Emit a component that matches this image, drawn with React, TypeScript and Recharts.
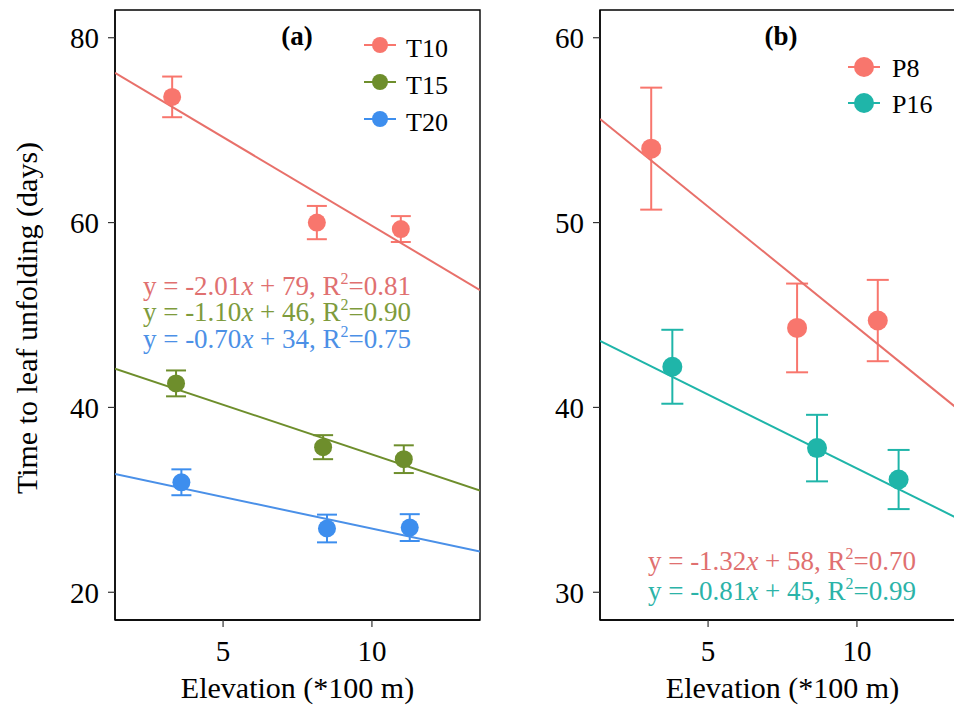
import React from "react";
import { ComposedChart, Scatter, XAxis, YAxis, ErrorBar, ReferenceArea } from "recharts";

const FONT = "'Liberation Serif', 'Times New Roman', serif";
const W = 954;
const H = 707;

// shared x axis (elevation, *100 m)
const xDomain: [number, number] = [1.37, 13.63];
const xTicks = [5, 10];
const fitX = [1.37, 13.63];

// panel (a): temperature treatments
const yDomainA: [number, number] = [17, 83];
const yTicksA = [20, 40, 60, 80];
const t10X = [3.29, 8.15, 10.97];
const t10Y = [73.6, 60.0, 59.3];
const t10Err = [2.2, 1.8, 1.4];
const t15X = [3.42, 8.36, 11.07];
const t15Y = [42.6, 35.7, 34.4];
const t15Err = [1.4, 1.3, 1.5];
const t20X = [3.6, 8.49, 11.27];
const t20Y = [31.9, 26.9, 27.0];
const t20Err = [1.4, 1.5, 1.45];
const t10Fit = [76.2, 52.7];
const t15Fit = [44.2, 31.0];
const t20Fit = [32.8, 24.4];

// panel (b): photoperiod treatments
const yDomainB: [number, number] = [28.5, 61.5];
const yTicksB = [30, 40, 50, 60];
const p8X = [3.09, 7.99, 10.7];
const p8Y = [54.0, 44.3, 44.7];
const p8Err = [3.3, 2.4, 2.2];
const p16X = [3.8, 8.66, 11.4];
const p16Y = [42.2, 37.8, 36.1];
const p16Err = [2.0, 1.8, 1.6];
const p8Fit = [55.6, 39.6];
const p16Fit = [43.6, 33.8];

const RED = "#F8766D";
const OLIVE = "#6E8E2C";
const BLUE = "#3D8EEE";
const TEAL = "#1FB5A9";

const rows = (xs: number[], ys: number[], errs?: number[]) =>
  xs.map((x, i) => ({ x, y: ys[i], err: errs ? errs[i] : 0 }));

type Group = { name: string; color: string; data: { x: number; y: number; err: number }[] };
type Fit = { color: string; data: { x: number; y: number; err: number }[] };

const groupsA: Group[] = [
  { name: "T10", color: RED, data: rows(t10X, t10Y, t10Err) },
  { name: "T15", color: OLIVE, data: rows(t15X, t15Y, t15Err) },
  { name: "T20", color: BLUE, data: rows(t20X, t20Y, t20Err) },
];
const fitsA: Fit[] = [
  { color: "#E8706A", data: rows(fitX, t10Fit) },
  { color: OLIVE, data: rows(fitX, t15Fit) },
  { color: "#4A90E8", data: rows(fitX, t20Fit) },
];
const groupsB: Group[] = [
  { name: "P8", color: RED, data: rows(p8X, p8Y, p8Err) },
  { name: "P16", color: TEAL, data: rows(p16X, p16Y, p16Err) },
];
const fitsB: Fit[] = [
  { color: "#E8706A", data: rows(fitX, p8Fit) },
  { color: TEAL, data: rows(fitX, p16Fit) },
];

type PanelProps = {
  left: number;
  width: number;
  yWidth: number;
  yDomain: [number, number];
  yTicks: number[];
  groups: Group[];
  fits: Fit[];
  r: number;
  cap: number;
};

function Panel({ left, width, yWidth, yDomain, yTicks, groups, fits, r, cap }: PanelProps) {
  const tickStyle = { fill: "#000", fontSize: 29, fontFamily: FONT };
  return (
    <div style={{ position: "absolute", left, top: 0 }}>
      <ComposedChart width={width} height={H} margin={{ top: 10, right: 1, bottom: 0, left: 0 }}>
        <XAxis
          type="number"
          dataKey="x"
          domain={xDomain}
          ticks={xTicks}
          allowDataOverflow
          height={87}
          tickSize={7}
          tickMargin={13}
          tick={tickStyle}
          axisLine={{ stroke: "#000", strokeWidth: 1.4 }}
          tickLine={{ stroke: "#333", strokeWidth: 1.2 }}
          label={{
            value: "Elevation (*100 m)",
            position: "insideBottom",
            offset: 9,
            fill: "#000",
            fontSize: 30,
            fontFamily: FONT,
          }}
        />
        <YAxis
          type="number"
          domain={yDomain}
          ticks={yTicks}
          allowDataOverflow
          width={yWidth}
          tickSize={7}
          tickMargin={9}
          tick={tickStyle}
          axisLine={{ stroke: "#000", strokeWidth: 1.4 }}
          tickLine={{ stroke: "#333", strokeWidth: 1.2 }}
        />
        <ReferenceArea
          x1={xDomain[0]}
          x2={xDomain[1]}
          y1={yDomain[0]}
          y2={yDomain[1]}
          fill="none"
          stroke="#000"
          strokeWidth={1.4}
          ifOverflow="visible"
        />
        {fits.map((f, i) => (
          <Scatter
            key={"fit" + i}
            data={f.data}
            dataKey="y"
            line={{ stroke: f.color, strokeWidth: 2 }}
            shape={() => <g />}
            legendType="none"
            isAnimationActive={false}
          />
        ))}
        {groups.map((g) => (
          <Scatter
            key={g.name}
            name={g.name}
            data={g.data}
            dataKey="y"
            fill={g.color}
            shape={(p: any) => <circle cx={p.cx} cy={p.cy} r={r} fill={g.color} />}
            isAnimationActive={false}
          >
            <ErrorBar dataKey="err" direction="y" width={cap} stroke={g.color} strokeWidth={2} />
          </Scatter>
        ))}
      </ComposedChart>
    </div>
  );
}

function Eq({ x, y, color, a, b, r2 }: { x: number; y: number; color: string; a: string; b: string; r2: string }) {
  return (
    <text x={x} y={y} fill={color} fontSize={27} textAnchor="middle">
      {"y = " + a}
      <tspan fontStyle="italic">x</tspan>
      {" + " + b + ", R"}
      <tspan dy={-11} fontSize={16}>2</tspan>
      <tspan dy={11}>{"=" + r2}</tspan>
    </text>
  );
}

function LegendItems({ items, cx, y0, step, r, tx, dyText }: { items: Group[]; cx: number; y0: number; step: number; r: number; tx: number; dyText: number }) {
  return (
    <g>
      {items.map((g, i) => {
        const cy = y0 + i * step;
        return (
          <g key={g.name}>
            <line x1={cx - 16} x2={cx + 16} y1={cy} y2={cy} stroke={g.color} strokeWidth={2} />
            <circle cx={cx} cy={cy} r={r} fill={g.color} />
            <text x={tx} y={cy + dyText} fontSize={26} fill="#000">
              {g.name}
            </text>
          </g>
        );
      })}
    </g>
  );
}

export default function App() {
  return (
    <div
      style={{
        position: "absolute",
        left: 0,
        top: 0,
        width: W,
        height: H,
        overflow: "hidden",
        background: "#fff",
        fontFamily: FONT,
      }}
    >
      <Panel left={0} width={481} yWidth={115} yDomain={yDomainA} yTicks={yTicksA} groups={groupsA} fits={fitsA} r={9} cap={10} />
      <Panel left={480} width={486} yWidth={120} yDomain={yDomainB} yTicks={yTicksB} groups={groupsB} fits={fitsB} r={10} cap={11} />
      <svg width={W} height={H} style={{ position: "absolute", left: 0, top: 0, pointerEvents: "none" }} fontFamily={FONT}>
        <text x={37} y={318} transform="rotate(-90 37 318)" textAnchor="middle" fontSize={30} fill="#000">
          Time to leaf unfolding (days)
        </text>
        <text x={297} y={45} textAnchor="middle" fontSize={27} fontWeight="bold" fill="#000">
          (a)
        </text>
        <text x={781} y={45} textAnchor="middle" fontSize={27} fontWeight="bold" fill="#000">
          (b)
        </text>
        <LegendItems items={groupsA} cx={380} y0={45} step={37} r={8} tx={406} dyText={12} />
        <LegendItems items={groupsB} cx={864} y0={67} step={36} r={10} tx={892} dyText={10} />
        <Eq x={277} y={295} color="#E07070" a="-2.01" b="79" r2="0.81" />
        <Eq x={277} y={321} color="#7E9B3C" a="-1.10" b="46" r2="0.90" />
        <Eq x={277} y={348} color="#4C90E6" a="-0.70" b="34" r2="0.75" />
        <Eq x={782} y={570} color="#E07070" a="-1.32" b="58" r2="0.70" />
        <Eq x={782} y={600} color="#2BB3A8" a="-0.81" b="45" r2="0.99" />
      </svg>
    </div>
  );
}
